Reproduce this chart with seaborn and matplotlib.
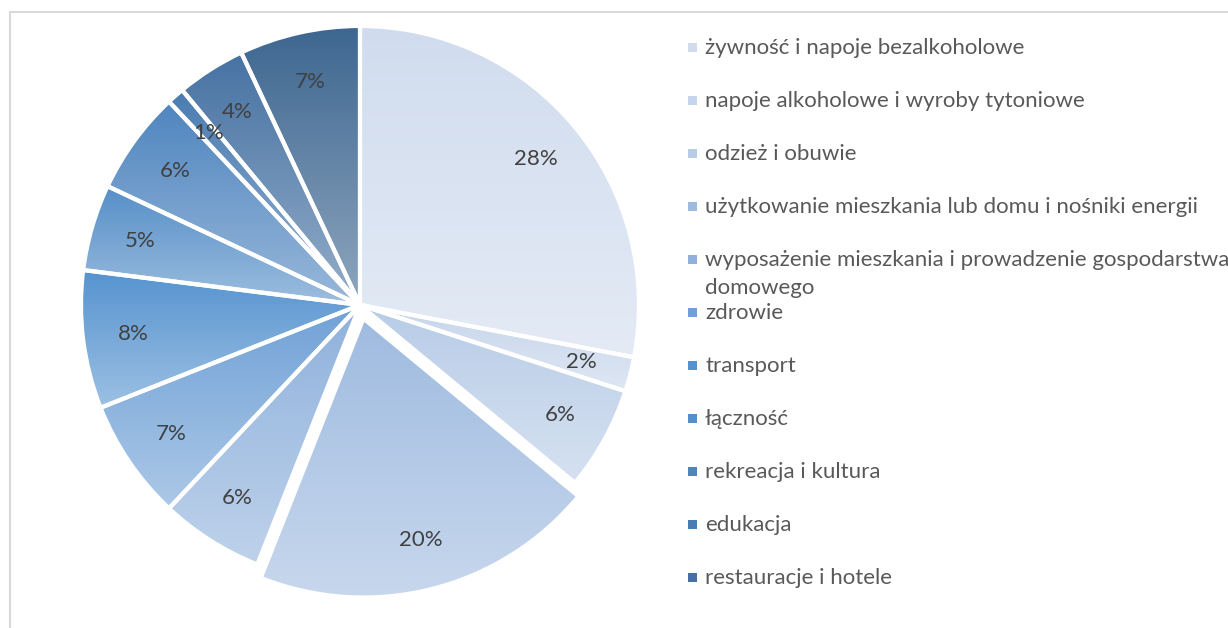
import matplotlib.pyplot as plt
import numpy as np
import seaborn as sns
from matplotlib.colors import to_rgb
from matplotlib.patches import Rectangle

# data (share of expenditure, %)
categories = [
    "żywność i napoje bezalkoholowe",
    "napoje alkoholowe i wyroby tytoniowe",
    "odzież i obuwie",
    "użytkowanie mieszkania lub domu i nośniki energii",
    "wyposażenie mieszkania i prowadzenie gospodarstwa\ndomowego",
    "zdrowie",
    "transport",
    "łączność",
    "rekreacja i kultura",
    "edukacja",
    "restauracje i hotele",
    "inne wydatki na towary i usługi",
]
shares = [28, 2, 6, 20, 6, 7, 8, 5, 6, 1, 4, 7]
pct_labels = ["28%", "2%", "6%", "20%", "6%", "7%", "8%", "5%", "6%", "1%", "4%", "7%"]
explode = [0, 0, 0, 0.05, 0, 0, 0, 0, 0, 0, 0, 0]
legend_count = 11  # the last entry is cut off in the original

slice_colors = [
    "#d0dcee", "#c6d5eb", "#b8cce7", "#9fbbe0", "#8fb1dc", "#70a1d6",
    "#5593cf", "#568fc8", "#4f85bf", "#4a7cb2", "#4672a2", "#3d6690",
]

sns.set_style("white")
plt.rcParams["font.family"] = ["Lato", "DejaVu Sans"]

W, H = 1228, 628
fig = plt.figure(figsize=(W / 100, H / 100), dpi=100)

# pie axes: centre at (360, 305) px, radius 279 px
cx, cy, rad, half = 360, 305, 279, 300
ax = fig.add_axes([(cx - half) / W, (H - cy - half) / H, 2 * half / W, 2 * half / H])
lim = half / rad

wedges, texts = ax.pie(
    shares,
    explode=explode,
    startangle=90,
    counterclock=False,
    colors=slice_colors,
    wedgeprops=dict(edgecolor="white", linewidth=3),
)

# vertical gradient inside every slice: darker on top, lighter at the bottom
for w, c in zip(wedges, slice_colors):
    top = np.array(to_rgb(c))
    bottom = top + (1 - top) * 0.42
    t = np.linspace(0, 1, 256)[:, None]
    grad = (bottom[None, :] * (1 - t) + top[None, :] * t)[:, None, :]
    bb = w.get_path().get_extents()
    im = ax.imshow(grad, extent=[bb.x0, bb.x1, bb.y0, bb.y1], origin="lower",
                   aspect="auto", interpolation="bilinear", zorder=1)
    im.set_clip_path(w)
    w.set_facecolor("none")
    w.set_zorder(2)

# percentage labels
pctdist = 0.82
theta = 90.0
for w, s, lab, ex in zip(wedges, shares, pct_labels, explode):
    mid = np.deg2rad(theta - s / sum(shares) * 360 / 2)
    theta -= s / sum(shares) * 360
    r = pctdist + ex
    ax.text(r * np.cos(mid), r * np.sin(mid), lab, ha="center", va="center",
            fontsize=16, color="#404040", zorder=3)

ax.set_xlim(-lim, lim)
ax.set_ylim(-lim, lim)
ax.set_aspect("auto")
ax.axis("off")

# legend drawn by hand so the wrapped entry keeps the fixed row spacing
lx, ly0, step, line_h = 688, 48, 53, 28
for i in range(legend_count):
    y = ly0 + i * step
    fig.patches.append(Rectangle((lx / W, 1 - (y + 4) / H), 9 / W, 9 / H,
                                 transform=fig.transFigure, facecolor=slice_colors[i],
                                 edgecolor="none"))
    for k, line in enumerate(categories[i].split("\n")):
        fig.text((lx + 17) / W, 1 - (y + k * line_h) / H, line, ha="left", va="center",
                 fontsize=16, color="#595959")

# chart-area frame (cut off at right and bottom)
fig.patches.append(Rectangle((9.5 / W, -0.1), 1.2, 1.1 - 12.5 / H, transform=fig.transFigure,
                             fill=False, edgecolor="#d9d9d9", linewidth=1.5))

fig.savefig("out.png", dpi=100)
